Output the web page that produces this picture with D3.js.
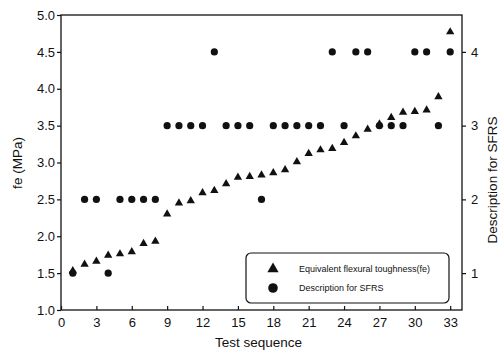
<!DOCTYPE html>
<html><head><meta charset="utf-8">
<script src="https://cdn.jsdelivr.net/npm/d3@7"></script>
<style>body{margin:0;background:#fff}svg{display:block}text{font-family:"Liberation Sans",Arial,sans-serif;fill:#111}</style>
</head><body>
<svg id="c" width="501" height="352"></svg>
<script>
const tests = d3.range(1, 34);
const fe = [1.53,1.62,1.66,1.74,1.76,1.79,1.90,1.93,2.30,2.45,2.48,2.59,2.62,2.71,2.80,2.81,2.83,2.86,2.90,3.01,3.12,3.17,3.19,3.27,3.36,3.45,3.52,3.61,3.68,3.69,3.71,3.89,4.77];
const sfrs = [1,2,2,1,2,2,2,2,3,3,3,3,4,3,3,3,2,3,3,3,3,3,4,3,4,4,3,3,3,4,4,3,4];
const xTicks = d3.range(0, 34, 3);
const yTicks = [1.0,1.5,2.0,2.5,3.0,3.5,4.0,4.5,5.0];
const rTicks = [1,2,3,4];
const legendLabels = ["Equivalent flexural toughness(fe)", "Description for SFRS"];

const svg = d3.select("#c");
const L = 61, R = 462, T = 15, B = 310;
const x = d3.scaleLinear().domain([0, 34]).range([L, R]);
const y = d3.scaleLinear().domain([1, 5]).range([B, T]);
const yr = d3.scaleLinear().domain([0.5, 4.5]).range([B, T]);

// frame
svg.append("rect").attr("x", L).attr("y", T).attr("width", R - L).attr("height", B - T)
  .attr("fill", "none").attr("stroke", "#111").attr("stroke-width", 1.3);

const gx = svg.append("g").attr("transform", `translate(0,${B})`)
  .call(d3.axisBottom(x).tickValues(xTicks).tickSize(-4).tickPadding(8).tickFormat(d3.format("d")));
const gy = svg.append("g").attr("transform", `translate(${L},0)`)
  .call(d3.axisLeft(y).tickValues(yTicks).tickSize(4).tickPadding(2).tickFormat(d3.format(".1f")));
const gr = svg.append("g").attr("transform", `translate(${R},0)`)
  .call(d3.axisRight(yr).tickValues(rTicks).tickSize(4).tickPadding(5).tickFormat(d3.format("d")));
[gx, gy, gr].forEach(g => {
  g.select(".domain").remove();
  g.selectAll("line").attr("stroke", "#111").attr("stroke-width", 1.2);
  g.selectAll("text").attr("font-size", 13).attr("font-family", '"Liberation Sans",Arial,sans-serif').attr("fill", "#111");
});

const tri = d3.symbol().type(d3.symbolTriangle).size(30);
svg.append("g").selectAll("circle").data(tests).join("circle")
  .attr("cx", d => x(d)).attr("cy", (d, i) => yr(sfrs[i])).attr("r", 3.6).attr("fill", "#111");
svg.append("g").selectAll("path").data(tests).join("path")
  .attr("d", tri).attr("transform", (d, i) => `translate(${x(d)},${y(fe[i])})`).attr("fill", "#111");

// axis titles
svg.append("text").attr("x", (L + R) / 2 - 3).attr("y", 347).attr("text-anchor", "middle").attr("font-size", 13.5).text("Test sequence");
svg.append("text").attr("transform", "translate(22,163) rotate(-90)").attr("text-anchor", "middle").attr("font-size", 13.5).text("fe (MPa)");
svg.append("text").attr("transform", "translate(497,180) rotate(-90)").attr("text-anchor", "middle").attr("font-size", 13.5).text("Description for SFRS");

// legend
const lg = svg.append("g");
lg.append("rect").attr("x", 246).attr("y", 253).attr("width", 203).attr("height", 50).attr("rx", 5)
  .attr("fill", "#fff").attr("stroke", "#111").attr("stroke-width", 1.2);
lg.append("path").attr("d", d3.symbol().type(d3.symbolTriangle).size(55)).attr("transform", "translate(273,269)").attr("fill", "#111");
lg.append("circle").attr("cx", 273).attr("cy", 288).attr("r", 4.8).attr("fill", "#111");
lg.selectAll("text.lt").data(legendLabels).join("text").attr("class", "lt")
  .attr("x", 299).attr("y", (d, i) => 272 + i * 19).attr("font-size", 9).text(d => d);
</script>
</body></html>
